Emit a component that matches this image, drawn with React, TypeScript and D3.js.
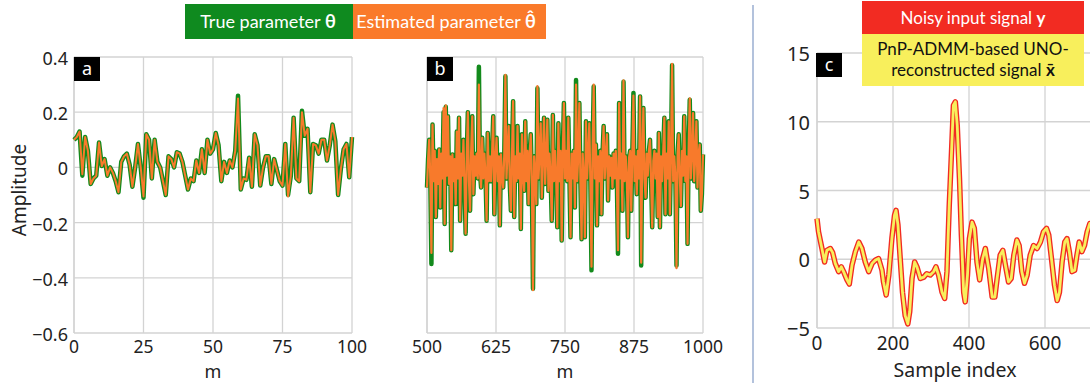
import * as d3 from "d3";

// panel a: true parameter, m = 0..100
const trueA = [
  0.10, 0.11, 0.13, -0.03, 0.11, 0.06, -0.06, -0.04, -0.03, 0.09,
  0.005, 0.03, -0.03, 0.0, -0.02, -0.05, -0.09, 0.02, 0.04, 0.05,
  0.01, -0.07, 0.0, 0.085, 0.0, -0.11, 0.12, 0.10, -0.04, 0.10,
  0.02, 0.0, -0.05, -0.10, 0.04, 0.03, 0.0, 0.055, 0.05, 0.02,
  -0.03, -0.08, -0.04, -0.05, 0.025, -0.02, 0.066, -0.02, 0.10, 0.05,
  0.066, 0.125, 0.08, -0.05, 0.02, -0.02, 0.025, 0.0, 0.06, 0.26,
  -0.08, -0.04, -0.045, 0.035, -0.07, 0.12, 0.08, -0.066, 0.0, 0.04,
  0.04, -0.06, 0.03, -0.01, -0.05, -0.066, 0.085, -0.10, -0.03, 0.18,
  -0.04, -0.05, 0.205, 0.115, 0.14, -0.09, 0.085, 0.08, 0.05, 0.10,
  0.10, 0.025, 0.08, 0.155, 0.095, -0.10, -0.005, 0.066, 0.085, -0.036,
  0.11,
];
// where the estimate differs visibly from the true value: [m, value]
const estAChanges: [number, number][] = [
  [3, -0.025], [25, -0.105], [59, 0.25], [77, -0.105], [82, 0.2],
];

// panel b: true parameter, m = 500, 502, ..., 1000
const trueB = [
  -0.073, 0.03, 0.10, -0.04, -0.35, 0.155, -0.05, 0.06, -0.18, 0.03,
  -0.06, 0.065, -0.145, 0.05, -0.04, 0.20, -0.205, 0.22, -0.03, 0.185,
  -0.06, 0.04, -0.30, 0.047, -0.05, 0.03, -0.133, 0.13, -0.04, 0.18,
  -0.193, 0.05, -0.03, 0.10, -0.06, -0.24, 0.04, 0.20, -0.05, -0.157,
  0.06, 0.185, -0.097, 0.04, -0.03, 0.05, -0.04, 0.365, -0.02, -0.073,
  0.107, -0.04, 0.05, -0.03, -0.193, 0.125, -0.05, 0.04, -0.05, 0.06,
  0.185, -0.17, 0.03, 0.107, -0.05, 0.04, -0.21, 0.047, -0.03, -0.073,
  0.05, 0.33, -0.04, 0.06, 0.15, -0.06, -0.157, 0.05, 0.24, -0.18,
  0.04, -0.05, 0.15, -0.04, 0.05, -0.223, 0.12, -0.03, -0.085, 0.167,
  -0.05, 0.06, -0.133, 0.05, 0.12, -0.06, -0.44, 0.04, -0.03, -0.133,
  0.287, -0.04, 0.05, 0.16, -0.11, 0.05, 0.18, -0.06, 0.04, 0.173,
  -0.085, 0.05, -0.04, -0.193, 0.19, -0.05, 0.06, -0.04, -0.217, 0.16,
  -0.05, 0.06, -0.265, 0.05, 0.233, -0.04, 0.06, -0.05, 0.18, -0.03,
  -0.253, 0.05, -0.04, 0.06, -0.145, 0.317, -0.05, 0.04, 0.233, -0.06,
  -0.26, 0.05, -0.03, -0.253, 0.167, -0.04, 0.05, 0.16, -0.05, -0.373,
  0.06, 0.293, -0.04, 0.083, -0.21, 0.04, -0.05, 0.06, -0.17, 0.05,
  0.15, -0.04, 0.05, 0.12, -0.12, 0.04, -0.03, 0.035, -0.073, 0.05,
  -0.04, 0.06, -0.05, -0.313, 0.233, -0.04, 0.05, -0.157, 0.31, -0.05,
  0.04, -0.03, -0.253, 0.035, 0.06, -0.157, 0.05, 0.27, -0.05, 0.04,
  -0.097, 0.06, -0.04, 0.257, -0.355, 0.05, 0.215, -0.04, -0.11, 0.05,
  -0.03, 0.06, 0.10, -0.05, -0.217, 0.024, 0.06, -0.04, 0.05, -0.18,
  0.125, -0.217, 0.04, -0.05, 0.06, 0.18, -0.17, 0.05, -0.04, 0.167,
  -0.17, 0.05, 0.37, -0.05, 0.04, -0.03, -0.355, 0.05, 0.12, -0.04,
  -0.14, 0.06, -0.03, 0.185, -0.05, 0.04, -0.277, 0.06, 0.245, -0.04,
  0.05, 0.197, -0.05, 0.04, 0.167, -0.073, 0.05, 0.083, -0.157, -0.097,
  0.047,
];
const estBChanges: [number, number][] = [
  [508, -0.31], [530, 0.215], [534, 0.225], [594, 0.3], [642, 0.335],
  [692, -0.445], [700, 0.295], [770, 0.3], [798, -0.36], [802, 0.3],
  [846, -0.3], [856, 0.315], [874, 0.26], [888, -0.345], [944, 0.375],
  [952, -0.365], [976, 0.25],
];

// panel c: sample index and reconstructed amplitude
const sampleC = [
  0, 4, 13, 20, 26, 35, 41, 48, 57, 64, 70, 79, 85, 92, 101, 110, 118, 127,
  136, 145, 154, 162, 171, 175, 182, 189, 197, 204, 208, 213, 219, 225, 232,
  239, 244, 250, 257, 263, 272, 281, 289, 298, 307, 313, 320, 329, 336, 342,
  348, 354, 359, 364, 369, 375, 380, 386, 390, 396, 401, 408, 414, 421, 428,
  436, 443, 452, 461, 468, 474, 482, 489, 496, 504, 511, 518, 526, 532, 539,
  546, 553, 561, 570, 579, 588, 596, 604, 610, 617, 625, 632, 638, 645, 652,
  658, 664, 671, 678, 684, 690, 697, 704, 711, 718, 726,
];
const valueC = [
  2.95, 2.0, 0.78, -0.2, 0.65, 0.78, 0.5, -0.3, -0.9, -0.55, -0.9, -1.5, -1.8,
  -0.45, 0.55, 1.25, 0.8, -0.2, -0.9, -0.3, -0.05, 0.05, -0.8, -1.65, -2.6,
  -1.15, 1.5, 3.2, 3.55, 2.5, 0.05, -2.4, -4.1, -4.7, -3.8, -1.4, -0.2, -0.55,
  -1.4, -1.3, -1.05, -1.15, -0.9, -0.55, -1.15, -2.4, -2.85, -0.9, 3.9, 7.8,
  11.2, 11.45, 9.75, 5.85, 1.75, -2.4, -3.1, -1.15, 1.5, 2.7, 2.25, -0.2, -1.5,
  0.05, 0.78, -0.7, -2.75, -2.75, -1.4, 0.3, 0.65, -0.45, -1.65, -1.4, 0.3, 1.4,
  1.0, -0.9, -1.75, -1.15, 0.3, 1.0, 0.78, 1.25, 2.0, 2.25, 1.75, 0.05, -1.9,
  -3.0, -2.4, -0.2, 1.25, 1.5, 0.55, -0.9, -0.8, 0.3, 1.25, 0.55, 1.0, 2.0,
  2.6, 2.3,
];

const ticksAB = [0.4, 0.2, 0, -0.2, -0.4, -0.6];
const ticksXA = [0, 25, 50, 75, 100];
const ticksXB = [500, 625, 750, 875, 1000];
const ticksYC = [15, 10, 5, 0, -5];
const ticksXC = [0, 200, 400, 600];

const GREEN = "#138a1c";
const ORANGE = "#f87a2b";
const RED = "#f22b22";
const YELLOW = "#f8ef5c";
const GRID = "#d3d3d3";
const TICK_FONT = "'Noto Sans', 'DejaVu Sans', sans-serif";
const LEGEND_FONT = "Lato, 'Open Sans', sans-serif";

const fmt = (v: number) => (v < 0 ? "\u2212" + Math.abs(v) : String(v));

function withChanges(base: number[], start: number, step: number, changes: [number, number][]) {
  const out = base.slice();
  changes.forEach(([m, v]) => {
    out[(m - start) / step] = v;
  });
  return out;
}

function Grid({ x, y, xt, yt, x1 }: {
  x: d3.ScaleLinear<number, number>;
  y: d3.ScaleLinear<number, number>;
  xt: number[];
  yt: number[];
  x1?: number;
}) {
  const [xa, xb] = x.range();
  const [yb, ya] = y.range();
  const right = x1 ?? xb;
  return (
    <g stroke={GRID} strokeWidth={1.3} fill="none">
      {xt.map((t) => (
        <line key={"v" + t} x1={x(t)} x2={x(t)} y1={ya} y2={yb} />
      ))}
      {yt.map((t) => (
        <line key={"h" + t} x1={xa} x2={right} y1={y(t)} y2={y(t)} />
      ))}
      <line x1={xa} x2={xa} y1={ya} y2={yb} />
    </g>
  );
}

function PanelTag({ x, y, label }: { x: number; y: number; label: string }) {
  return (
    <g>
      <rect x={x} y={y} width={26} height={24} fill="#000" />
      <text x={x + 13} y={y + 18} fill="#fff" fontSize={18} textAnchor="middle" fontFamily={TICK_FONT}>
        {label}
      </text>
    </g>
  );
}

export default function App() {
  const W = 1090;
  const H = 383;

  const xA = d3.scaleLinear([0, 100], [74, 352]);
  const xB = d3.scaleLinear([500, 1000], [427, 703]);
  const yAB = d3.scaleLinear([-0.6, 0.4], [333, 57]);
  const xC = d3.scaleLinear([0, 1000], [817, 1197]);
  const yC = d3.scaleLinear([-5, 15], [328, 53]);

  const estA = withChanges(trueA, 0, 1, estAChanges);
  const estB = withChanges(trueB, 500, 2, estBChanges);
  const mB = d3.range(500, 1001, 2);

  const lineA = d3.line<number>().x((_, i) => xA(i)).y((d) => yAB(d));
  const lineB = d3.line<number>().x((_, i) => xB(mB[i])).y((d) => yAB(d));
  const lineC = d3.line<number>().x((_, i) => xC(sampleC[i])).y((d) => yC(d));

  return (
    <svg
      width={W}
      height={H}
      style={{ position: "absolute", left: 0, top: 0, background: "#fff" }}
    >
      {/* panel a */}
      <Grid x={xA} y={yAB} xt={ticksXA} yt={ticksAB} />
      <path d={lineA(trueA) ?? ""} fill="none" stroke={GREEN} strokeWidth={4.5} strokeLinejoin="round" />
      <path d={lineA(estA) ?? ""} fill="none" stroke={ORANGE} strokeWidth={2} strokeLinejoin="round" />
      <PanelTag x={74} y={57} label="a" />
      {ticksAB.map((t) => (
        <text key={t} x={68} y={yAB(t) + 8} textAnchor="end" fontSize={18} fontFamily={TICK_FONT} fill="#222">
          {fmt(t)}
        </text>
      ))}
      {ticksXA.map((t) => (
        <text key={t} x={xA(t)} y={353} textAnchor="middle" fontSize={17.5} fontFamily={TICK_FONT} fill="#222">
          {t}
        </text>
      ))}
      <text x={213} y={377.5} textAnchor="middle" fontSize={18} fontFamily={TICK_FONT} fill="#222">m</text>
      <text
        transform="translate(26,190) rotate(-90)"
        textAnchor="middle"
        fontSize={19}
        fontFamily={TICK_FONT}
        fill="#222"
      >
        Amplitude
      </text>

      {/* panel b */}
      <Grid x={xB} y={yAB} xt={ticksXB} yt={ticksAB} />
      <path d={lineB(trueB) ?? ""} fill="none" stroke={GREEN} strokeWidth={4.5} strokeLinejoin="round" />
      <path d={lineB(estB) ?? ""} fill="none" stroke={ORANGE} strokeWidth={2.2} strokeLinejoin="round" />
      <PanelTag x={427} y={57} label="b" />
      {ticksXB.map((t) => (
        <text key={t} x={xB(t)} y={353} textAnchor="middle" fontSize={17.5} fontFamily={TICK_FONT} fill="#222">
          {t}
        </text>
      ))}
      <text x={565} y={377.5} textAnchor="middle" fontSize={18} fontFamily={TICK_FONT} fill="#222">m</text>

      {/* legend a/b */}
      <rect x={185} y={4} width={168} height={35} fill="#0f8a1f" />
      <rect x={353} y={4} width={193} height={35} fill="#fa7a2a" />
      <text x={268} y={28} textAnchor="middle" fontSize={18} fontFamily={LEGEND_FONT} fill="#fff">
        True parameter <tspan fontWeight="bold">θ</tspan>
      </text>
      <text x={446} y={28} textAnchor="middle" fontSize={18} fontFamily={LEGEND_FONT} fill="#fff">
        Estimated parameter <tspan fontWeight="bold">θ̂</tspan>
      </text>

      {/* separator */}
      <line x1={753} x2={753} y1={5} y2={383} stroke="#9aaed0" strokeWidth={1.5} />

      {/* panel c */}
      <Grid x={xC} y={yC} xt={ticksXC} yt={ticksYC} x1={W + 10} />
      <path d={lineC(valueC) ?? ""} fill="none" stroke={RED} strokeWidth={5.5} strokeLinejoin="round" />
      <path d={lineC(valueC) ?? ""} fill="none" stroke={YELLOW} strokeWidth={2.8} strokeLinejoin="round" />
      <PanelTag x={816} y={53} label="c" />
      {ticksYC.map((t) => (
        <text key={t} x={810} y={yC(t) + 8} textAnchor="end" fontSize={20} fontFamily={TICK_FONT} fill="#222">
          {fmt(t)}
        </text>
      ))}
      {ticksXC.map((t) => (
        <text key={t} x={xC(t)} y={350} textAnchor="middle" fontSize={19} fontFamily={TICK_FONT} fill="#222">
          {t}
        </text>
      ))}
      <text x={955} y={377} textAnchor="middle" fontSize={19.5} fontFamily={TICK_FONT} fill="#222">
        Sample index
      </text>

      {/* legend c */}
      <rect x={862} y={1} width={222} height={33} fill={RED} />
      <rect x={862} y={34} width={222} height={52} fill={YELLOW} />
      <text x={973} y={24} textAnchor="middle" fontSize={17} fontFamily={LEGEND_FONT} fill="#fff">
        Noisy input signal <tspan fontWeight="bold">y</tspan>
      </text>
      <text x={973} y={55} textAnchor="middle" fontSize={17} fontFamily={LEGEND_FONT} fill="#111">
        PnP-ADMM-based UNO-
      </text>
      <text x={973} y={76} textAnchor="middle" fontSize={17} fontFamily={LEGEND_FONT} fill="#111">
        reconstructed signal <tspan fontWeight="bold">x̄</tspan>
      </text>
    </svg>
  );
}
